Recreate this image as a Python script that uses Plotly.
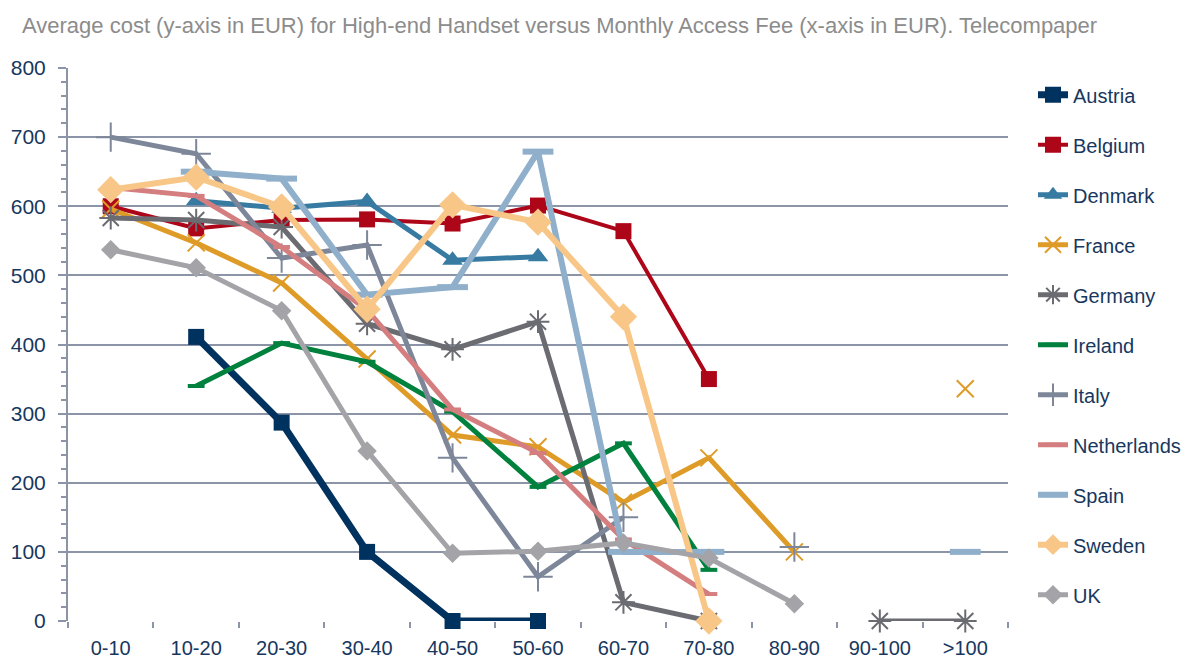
import plotly.graph_objects as go

categories = ["0-10", "10-20", "20-30", "30-40", "40-50", "50-60",
              "60-70", "70-80", "80-90", "90-100", ">100"]

austria = [None, 411, 287, 100, 0, 0, None, None, None, None, None]
belgium = [600, 568, 580, 581, 575, 601, 564, 350, None, None, None]
denmark = [None, 608, 597, 607, 522, 527, None, None, None, None, None]
france = [596, 547, 489, 379, 269, 252, 172, 236, 100, None, 336]
germany = [583, 580, 570, 430, 393, 433, 27, 0, None, 0, 0]
ireland = [None, 340, 402, 375, 303, 194, 257, 74, None, None, None]
italy = [700, 676, 525, 544, 236, 64, 150, None, 107, None, None]
netherlands = [627, 615, 541, 450, 306, 243, 118, 39, None, None, None]
spain = [None, 650, 640, 472, 483, 679, 100, 100, None, None, 100]
sweden = [624, 642, 599, 451, 602, 577, 440, 0, None, None, None]
uk = [537, 511, 449, 246, 98, 101, 113, 91, 25, None, None]

series = [
    ("Austria", austria, "#00325F", 7, "square", 16, 0),
    ("Belgium", belgium, "#AE0619", 4, "square", 16, 0),
    ("Denmark", denmark, "#377BA3", 5, "triangle-up", 18, 0),
    ("France", france, "#DE9B27", 5, "x-thin", 17, 2),
    ("Germany", germany, "#6B6B72", 5, "asterisk", 19, 2),
    ("Ireland", ireland, "#00813E", 5, "line-ew", 12, 4),
    ("Italy", italy, "#7D8799", 5, "cross-thin", 21, 2),
    ("Netherlands", netherlands, "#D47E80", 5, "line-ew", 12, 4),
    ("Spain", spain, "#8FAFCB", 6, "line-ew", 22, 6),
    ("Sweden", sweden, "#F8C788", 6, "diamond", 21, 0),
    ("UK", uk, "#A3A3A8", 5, "diamond", 15, 0),
]

fig = go.Figure()
for name, vals, color, lw, sym, size, mlw in series:
    fig.add_trace(go.Scatter(
        x=categories, y=vals, name=name, mode="lines+markers",
        line=dict(color=color, width=lw),
        marker=dict(symbol=sym, size=size, color=color,
                    line=dict(color=color, width=mlw)),
        cliponaxis=False, legendgroup=name,
    ))

# page body adds an 8px margin, so the figure is sized to fit inside the window
fig.update_layout(
    width=1184, height=655,
    margin=dict(l=60, r=184, t=60, b=42, autoexpand=False),
    plot_bgcolor="white", paper_bgcolor="white",
    font=dict(family="Liberation Sans, Arial, sans-serif", color="#17375E"),
    title=dict(
        text="Average cost (y-axis in EUR) for High-end Handset versus Monthly Access Fee (x-axis in EUR). Telecompaper",
        x=14 / 1184, xref="container", xanchor="left",
        y=1 - 17 / 655, yref="container", yanchor="middle",
        font=dict(size=22, color="#8C8C8C"),
    ),
    legend=dict(
        x=1.0266, xanchor="left", y=0.987, yanchor="top",
        font=dict(size=20, color="#17375E"),
        tracegroupgap=21, bgcolor="rgba(0,0,0,0)",
    ),
    showlegend=True,
)

fig.update_xaxes(
    type="category", range=[-0.5, 10.5],
    showline=False, showgrid=False,
    ticks="outside", tickson="boundaries", ticklen=6,
    tickcolor="#8C95A8", tickwidth=2,
    tickfont=dict(size=20, color="#17375E"),
    ticklabelstandoff=13,
)
fig.update_yaxes(
    range=[0, 800], dtick=100,
    showgrid=True, gridcolor="#8C95A8", gridwidth=2,
    showline=True, linecolor="#8C95A8", linewidth=2,
    ticks="outside", ticklen=8, tickcolor="#8C95A8", tickwidth=2,
    minor=dict(dtick=20, ticks="outside", ticklen=5, tickcolor="#8C95A8", showgrid=False),
    tickfont=dict(size=21, color="#17375E"),
    ticklabelstandoff=8,
    zeroline=False,
)

fig.write_html("out.html")
